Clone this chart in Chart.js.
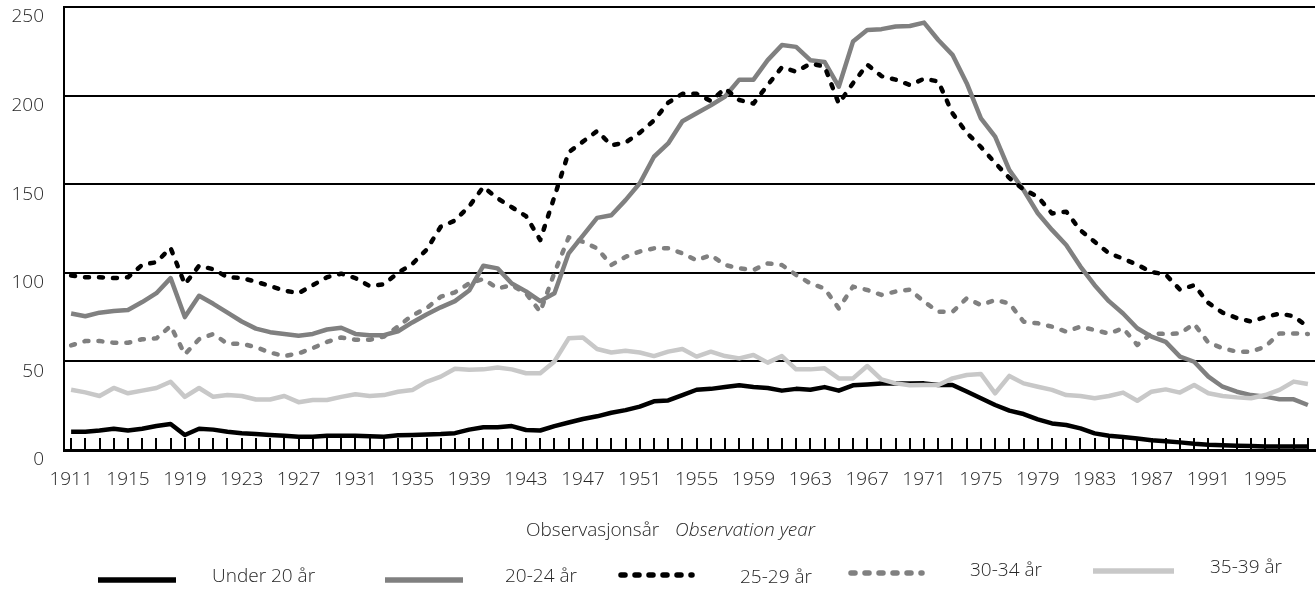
<!DOCTYPE html>
<html>
<head>
<meta charset="utf-8">
<script src="https://cdn.jsdelivr.net/npm/chart.js@4.4.1/dist/chart.umd.min.js"></script>
<style>
	body { margin: 0; background: #fff; }
	canvas { display: block; }
</style>
</head>
<body>
<canvas id="chart" width="1316" height="590"></canvas>
<script>
let years = [
	'1911','1912','1913','1914','1915','1916','1917','1918','1919','1920',
	'1921','1922','1923','1924','1925','1926','1927','1928','1929','1930',
	'1931','1932','1933','1934','1935','1936','1937','1938','1939','1940',
	'1941','1942','1943','1944','1945','1946','1947','1948','1949','1950',
	'1951','1952','1953','1954','1955','1956','1957','1958','1959','1960',
	'1961','1962','1963','1964','1965','1966','1967','1968','1969','1970',
	'1971','1972','1973','1974','1975','1976','1977','1978','1979','1980',
	'1981','1982','1983','1984','1985','1986','1987','1988','1989','1990',
	'1991','1992','1993','1994','1995','1996','1997','1998'
];

// every fourth year gets a label
let tickLabels = ['1911','1915','1919','1923','1927','1931','1935','1939','1943','1947','1951',
	'1955','1959','1963','1967','1971','1975','1979','1983','1987','1991','1995'];

let seriesNames = ['Under 20 år', '20-24 år', '25-29 år', '30-34 år', '35-39 år'];

let under20 = [
	10.3, 10.3, 11, 12, 11, 12, 13.5, 14.7, 8.5, 12,
	11.5, 10.3, 9.5, 9, 8.5, 8, 7.5, 7.5, 8, 8,
	8, 7.8, 7.5, 8.3, 8.5, 8.7, 9, 9.5, 11.5, 12.8,
	12.8, 13.5, 11.3, 11, 13.5, 15.5, 17.5, 19, 21, 22.5,
	24.5, 27.5, 28, 31, 34, 34.5, 35.5, 36.5, 35.5, 35,
	33.5, 34.5, 34, 35.5, 33.5, 36.5, 37, 37.5, 37.5, 37.5,
	37.6, 36.7, 36.7, 33, 29.2, 25.4, 22.2, 20.3, 17.3, 15,
	14.1, 12.2, 9.4, 8, 7.3, 6.5, 5.5, 5, 4.3, 3.5,
	3, 2.7, 2.4, 2.2, 2, 2, 2, 2
];

let age20_24 = [
	77, 75.5, 77.5, 78.5, 79, 83.5, 88.5, 97, 75, 87,
	82.5, 77.5, 72.5, 68.5, 66.5, 65.5, 64.5, 65.5, 68, 69,
	65.5, 64.8, 64.8, 67, 72, 76.5, 80.5, 84, 90, 104,
	102.5, 94, 89.5, 84, 88.5, 111, 121, 131, 132.5, 141,
	150.5, 165.5, 173, 185.5, 190, 194.5, 199.5, 209, 209, 220,
	228.5, 227.5, 220, 219, 205, 230.5, 237, 237.5, 239, 239.3,
	241.2, 231.4, 223, 207, 187.2, 176.8, 158, 146.7, 133.6, 124.2,
	115.7, 103.5, 93, 84, 77, 68.7, 64, 61, 52.7, 49.8,
	41.4, 35.7, 32.9, 31, 30.1, 28.6, 28.6, 25.4
];

let age25_29 = [
	98.5, 97.5, 97.5, 97, 97.5, 104.5, 106, 114, 93.5, 104,
	102, 97.5, 97, 95, 92.5, 90, 88.5, 93, 97.5, 99.5,
	97, 92.5, 93.5, 100, 105, 113, 126, 129.5, 137.5, 148.5,
	142, 137, 132, 118.5, 143, 168, 174, 180, 172, 173.5,
	179, 186, 196, 201, 201, 197, 204, 197.5, 195.5, 206,
	216, 213.5, 218, 216.5, 195.5, 207, 217.5, 211, 209, 206,
	209.5, 208, 190, 179, 171, 162, 153.5, 147, 143, 133.5,
	134.5, 124, 117.5, 111, 108, 104.5, 100.5, 99, 90.5, 93,
	83, 77.5, 74.5, 72.5, 75, 77, 75.5, 69.5
];

let age30_34 = [
	59, 61.5, 61.5, 60.5, 60.5, 62.5, 63, 70, 54, 62.5,
	65.5, 60, 60, 58, 55, 53, 54.5, 57.5, 61, 63.5,
	62.2, 62.2, 64, 69.7, 76, 80, 86.5, 89, 94, 96.5,
	91.2, 93, 88.4, 78, 100, 120, 117.5, 113.8, 104.4, 109,
	112, 113.8, 113.8, 111, 107, 110, 104.4, 102.5, 101.6, 105.3,
	104.4, 98.8, 94, 91.2, 79.9, 92.2, 90.3, 87.5, 89.4, 90.5,
	83.7, 78, 78, 85.6, 81.8, 84.6, 82.8, 72.4, 71.5, 69.6,
	66.8, 69.6, 67.7, 65.7, 68.7, 59.3, 65.8, 65.5, 65.8, 71.1,
	60.6, 57.4, 55.5, 55.5, 58.3, 65.8, 65.8, 65.5
];

let age35_39 = [
	34, 32.5, 30.5, 35, 32, 33.5, 35, 38.5, 30, 35,
	30, 31, 30.5, 28.5, 28.5, 30.5, 27, 28.2, 28.2, 30,
	31.5, 30.5, 31, 32.9, 33.8, 38.5, 41.4, 45.8, 45.3, 45.5,
	46.5, 45.5, 43.3, 43.3, 50, 63, 63.5, 57, 55, 56,
	55, 53, 55.5, 57, 52.7, 55.5, 53, 51.7, 53.6, 49.3,
	53, 45.5, 45.5, 46.1, 40.4, 40.4, 47.4, 39.9, 37.6, 36.5,
	36.7, 36.7, 40.4, 42.3, 42.9, 32, 41.8, 37.6, 35.7, 33.9,
	31, 30.5, 29.2, 30.5, 32.4, 27.8, 32.9, 34.2, 32.4, 36.7,
	32, 30.5, 29.7, 29.2, 31, 33.9, 38.6, 37.2
];

const FONT = '"Open Sans", "DejaVu Sans", sans-serif';
const TEXT = '#262626';
const DASH = [4, 10];

let makeSet = (label, data, color, dashed, order) => ({
	label: label,
	data: data,
	borderColor: color,
	backgroundColor: color,
	borderWidth: 4.5,
	borderDash: dashed ? DASH : [],
	borderCapStyle: dashed ? 'round' : 'butt',
	borderJoinStyle: 'round',
	pointRadius: 0,
	tension: 0,
	fill: false,
	order: order
});

// legend positions, as in the original layout
let legendLayout = [
	{ x1: 98, x2: 176, y: 580, tx: 212, ty: 577 },
	{ x1: 385, x2: 463, y: 580, tx: 505, ty: 577 },
	{ x1: 621, x2: 692, y: 575, tx: 740, ty: 578 },
	{ x1: 851, x2: 922, y: 573, tx: 970, ty: 571 },
	{ x1: 1093, x2: 1174, y: 571, tx: 1210, ty: 568 }
];

let insideTicks = {
	id: 'insideTicks',
	beforeDatasetsDraw(chart) {
		let ctx = chart.ctx;
		let xs = chart.scales.x;
		let bottom = chart.chartArea.bottom;
		ctx.save();
		ctx.strokeStyle = '#000';
		ctx.lineWidth = 2;
		ctx.beginPath();
		years.forEach((yr, i) => {
			let px = Math.round(xs.getPixelForValue(i));
			ctx.moveTo(px, bottom);
			ctx.lineTo(px, bottom - 12);
		});
		ctx.stroke();
		ctx.restore();
	}
};

let titleAndLegend = {
	id: 'titleAndLegend',
	afterDraw(chart) {
		let ctx = chart.ctx;
		ctx.save();
		ctx.fillStyle = TEXT;
		ctx.textBaseline = 'middle';
		ctx.textAlign = 'left';
		ctx.font = '300 19px ' + FONT;
		ctx.fillText('Observasjonsår', 526, 531);
		ctx.font = 'italic 300 19px ' + FONT;
		ctx.fillText('Observation year', 675, 531);

		chart.data.datasets.forEach((ds, i) => {
			let p = legendLayout[i];
			ctx.strokeStyle = ds.borderColor;
			ctx.lineWidth = 5.5;
			ctx.lineCap = ds.borderCapStyle;
			ctx.setLineDash(ds.borderDash);
			ctx.beginPath();
			ctx.moveTo(p.x1, p.y);
			ctx.lineTo(p.x2, p.y);
			ctx.stroke();
			ctx.setLineDash([]);
			ctx.font = '300 19px ' + FONT;
			ctx.fillStyle = TEXT;
			ctx.fillText(ds.label, p.tx, p.ty);
		});
		ctx.restore();
	}
};

let noOverflow = (s) => {
	s.paddingTop = 0;
	s.paddingBottom = 0;
	s.paddingLeft = 0;
	s.paddingRight = 0;
};

let data = {
	labels: years,
	datasets: [
		makeSet(seriesNames[0], under20, '#000000', false, 5),
		makeSet(seriesNames[1], age20_24, '#808080', false, 4),
		makeSet(seriesNames[2], age25_29, '#000000', true, 3),
		makeSet(seriesNames[3], age30_34, '#808080', true, 2),
		makeSet(seriesNames[4], age35_39, '#c8c8c8', false, 1)
	]
};

let config = {
	type: 'line',
	data: data,
	options: {
		responsive: false,
		animation: false,
		layout: { padding: { top: 7, right: 1, left: 0, bottom: 0 } },
		plugins: {
			legend: { display: false },
			tooltip: { enabled: false }
		},
		scales: {
			x: {
				offset: true,
				grid: { drawOnChartArea: false, drawTicks: false },
				border: { color: '#000', width: 3 },
				ticks: {
					autoSkip: false,
					maxRotation: 0,
					padding: 18,
					color: TEXT,
					font: { family: FONT, size: 19, weight: 300 },
					callback: (v, i) => tickLabels.includes(years[i]) ? years[i] : ''
				},
				afterFit: (s) => { s.height = 140; noOverflow(s); }
			},
			y: {
				min: 0,
				max: 250,
				grid: { color: '#000', lineWidth: 2, drawTicks: false },
				border: { color: '#000', width: 2 },
				ticks: {
					stepSize: 50,
					padding: 20,
					labelOffset: 10,
					color: TEXT,
					font: { family: FONT, size: 19, weight: 300 }
				},
				afterFit: (s) => { s.width = 64; noOverflow(s); }
			}
		}
	},
	plugins: [insideTicks, titleAndLegend]
};

let myChart = new Chart(document.getElementById('chart'), config);
</script>
</body>
</html>
